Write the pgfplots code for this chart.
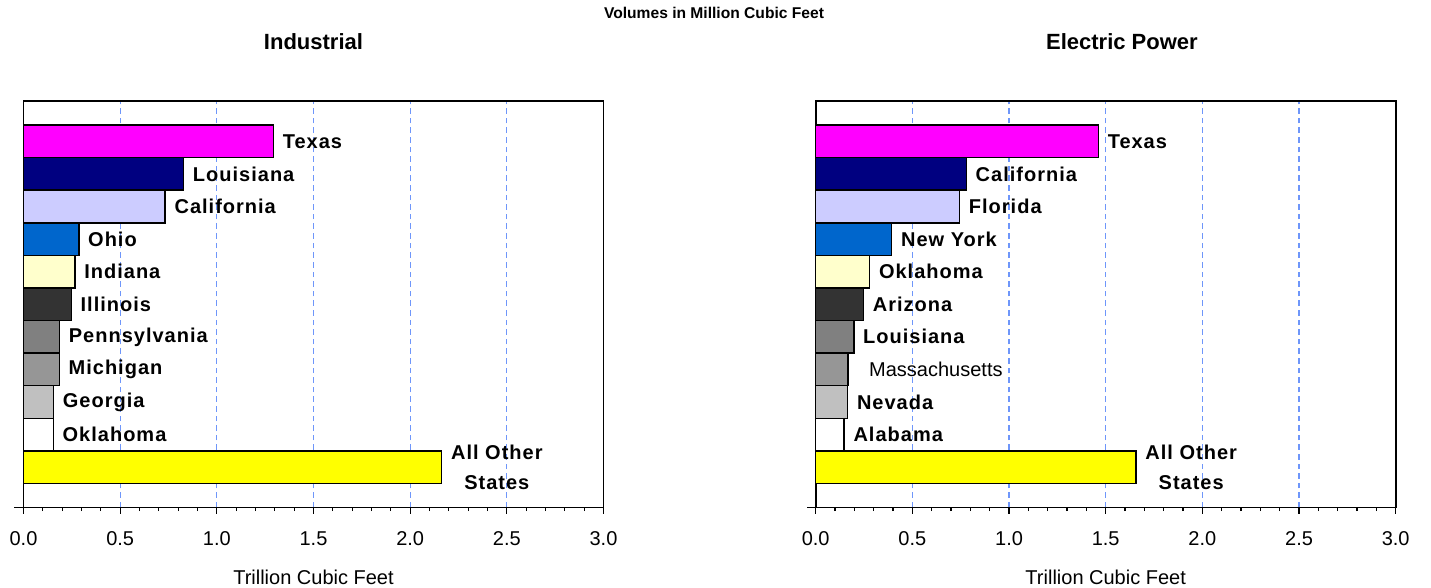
\documentclass[border=0pt]{standalone}
\usepackage{fontspec}
\setmainfont{Liberation Sans}
\newfontfamily\lblfont[LetterSpace=5]{Liberation Sans}
\usepackage{pgfplots}
\pgfplotsset{compat=1.18}
\definecolor{gridblue}{RGB}{110,150,250}
\definecolor{cmag}{RGB}{255,0,255}
\definecolor{cnavy}{RGB}{0,0,128}
\definecolor{clav}{RGB}{204,204,255}
\definecolor{cblue}{RGB}{0,102,204}
\definecolor{ccream}{RGB}{255,255,204}
\definecolor{cdark}{RGB}{51,51,51}
\definecolor{cgrey}{RGB}{128,128,128}
\definecolor{cgrey2}{RGB}{150,150,150}
\definecolor{csilver}{RGB}{192,192,192}
\definecolor{cyel}{RGB}{255,255,0}
\pgfplotsset{
  statechart/.style={
    xbar, bar shift=0pt, bar width=1,
    scale only axis, width=290pt, height=203.25pt,
    xmin=0, xmax=3, ymin=-1.236, ymax=11.236,
    xtick={0,0.5,1,1.5,2,2.5,3},
    minor x tick num=4,
    ytick=\empty,
    xtick align=outside, xtick pos=bottom,
    major tick length=3pt, minor tick length=1.8pt,
    xmajorgrids,
    major x grid style={gridblue, dash pattern=on 2.8pt off 2pt, line width=0.6pt},
    axis line style={line width=0.9pt},
    every tick/.style={black, line width=0.6pt},
    /pgf/number format/assume math mode=true,
    xticklabel style={font=\fontsize{10}{12}\selectfont, yshift=-5.5pt,
      /pgf/number format/fixed, /pgf/number format/fixed zerofill, /pgf/number format/precision=1},
    xlabel={Trillion Cubic Feet},
    xlabel style={at={(axis description cs:0.5,0)}, anchor=center, yshift=-35pt, font=\fontsize{10}{12}\selectfont},
    title style={at={(axis description cs:0.5,1)}, anchor=center, yshift=23.5pt, font=\fontsize{11}{13}\selectfont\bfseries},
    every node near coord/.style={anchor=west, font=\lblfont\bfseries\fontsize{10}{15}\selectfont, black, xshift=1pt, align=center},
    clip=false,
  },
  sb/.style={draw=black, line width=0.75pt, fill=#1},
}
\begin{document}
\begin{tikzpicture}
\path[use as bounding box] (0,0) rectangle (715.5pt,-294pt);
\node[font=\bfseries\fontsize{7.8}{9}\selectfont] at (357pt,-6.5pt) {Volumes in Million Cubic Feet};
\begin{axis}[statechart, at={(11.75pt,-50.5pt)}, anchor=north west, title={Industrial}]
\addplot[sb=cmag, nodes near coords={Texas}] coordinates {(1.293,10)};
\addplot[sb=cnavy, nodes near coords={Louisiana}] coordinates {(0.828,9)};
\addplot[sb=clav, nodes near coords={California}] coordinates {(0.733,8)};
\addplot[sb=cblue, nodes near coords={Ohio}] coordinates {(0.286,7)};
\addplot[sb=ccream, nodes near coords={Indiana}] coordinates {(0.266,6)};
\addplot[sb=cdark, nodes near coords={Illinois}] coordinates {(0.247,5)};
\addplot[sb=cgrey, nodes near coords={Pennsylvania}] coordinates {(0.186,4)};
\addplot[sb=cgrey2, nodes near coords={Michigan}] coordinates {(0.185,3)};
\addplot[sb=csilver, nodes near coords={Georgia}] coordinates {(0.155,2)};
\addplot[sb=white, nodes near coords={Oklahoma}] coordinates {(0.154,1)};
\addplot[sb=cyel, nodes near coords={All Other\\States}] coordinates {(2.163,0)};
\draw[line width=0.6pt] (axis cs:0,-1.236) -- ([xshift=-4.5pt]axis cs:0,-1.236);
\end{axis}
\begin{axis}[statechart, at={(407.85pt,-50.5pt)}, anchor=north west, title={Electric Power},
  title style={at={(axis description cs:0.528,1)}}]
\addplot[sb=cmag, nodes near coords={Texas}] coordinates {(1.462,10)};
\addplot[sb=cnavy, nodes near coords={California}] coordinates {(0.779,9)};
\addplot[sb=clav, nodes near coords={Florida}] coordinates {(0.744,8)};
\addplot[sb=cblue, nodes near coords={New York}] coordinates {(0.393,7)};
\addplot[sb=ccream, nodes near coords={Oklahoma}] coordinates {(0.279,6)};
\addplot[sb=cdark, nodes near coords={Arizona}] coordinates {(0.247,5)};
\addplot[sb=cgrey, nodes near coords={Louisiana}] coordinates {(0.197,4)};
\addplot[sb=cgrey2, nodes near coords={Massachusetts},
  every node near coord/.append style={font=\fontsize{10}{12}\selectfont, xshift=6pt}] coordinates {(0.166,3)};
\addplot[sb=csilver, nodes near coords={Nevada}] coordinates {(0.165,2)};
\addplot[sb=white, nodes near coords={Alabama}] coordinates {(0.147,1)};
\addplot[sb=cyel, nodes near coords={All Other\\States}] coordinates {(1.657,0)};
\draw[line width=0.6pt] (axis cs:0,-1.236) -- ([xshift=-4.5pt]axis cs:0,-1.236);
\end{axis}
\end{tikzpicture}
\end{document}
